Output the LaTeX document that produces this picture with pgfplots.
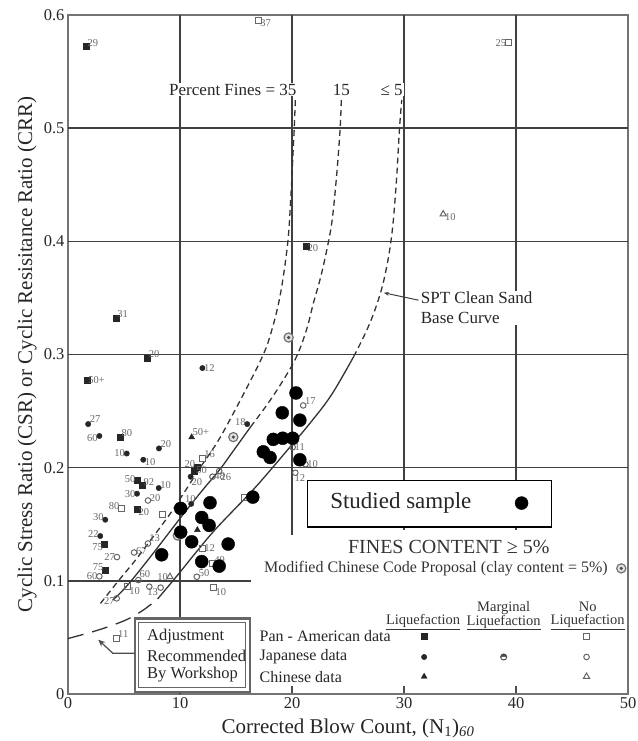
\documentclass[border=0pt]{standalone}
\usepackage{pgfplots}
\pgfplotsset{compat=1.18}
\usepackage{fontspec}
\setmainfont{Liberation Serif}
\usetikzlibrary{arrows.meta}

\newcommand{\fs}[1]{\fontsize{#1}{#1}\selectfont}

\begin{document}
\begin{tikzpicture}
\useasboundingbox (-68pt,-47pt) rectangle (569pt,694pt);
\begin{axis}[
  scale only axis, width=560pt, height=679pt,
  xmin=0, xmax=50, ymin=0, ymax=0.6,
  clip=false,
  axis line style={black!55, line width=1.8pt},
  xtick={0,10,20,30,40,50}, xticklabels={0,10,20,30,40,50},
  ytick={0,0.1,0.2,0.3,0.4,0.5,0.6}, yticklabels={0,0.1,0.2,0.3,0.4,0.5,0.6},
  tick align=inside, tick pos=left,
  major tick length=8pt,
  tick style={black!70, line width=1.2pt},
  ticklabel style={font=\fs{16.5}, text=black!85},
  xlabel={Corrected Blow Count, (N\textsubscript{1})\textsubscript{\textit{60}}},
  ylabel={Cyclic Stress Ratio (CSR) or Cyclic Resisitance Ratio (CRR)},
  label style={font=\fs{21}, text=black!85},
  xlabel style={at={(axis description cs:0.5,-0.051)}, anchor=center},
  ylabel style={at={(axis description cs:-0.073,0.5)}, anchor=center},
]
% grid
\draw[black!75, line width=1.4pt] (axis cs:10,0) -- (axis cs:10,0.6);
\draw[black!75, line width=1.4pt] (axis cs:20,0.1405) -- (axis cs:20,0.6);
\draw[black!75, line width=1.4pt] (axis cs:30,0.145) -- (axis cs:30,0.6);
\draw[black!75, line width=1.4pt] (axis cs:40,0.145) -- (axis cs:40,0.6);
\draw[black!75, line width=1.4pt] (axis cs:0,0.5) -- (axis cs:50,0.5);
\draw[black!75, line width=1.4pt] (axis cs:0,0.4) -- (axis cs:50,0.4);
\draw[black!75, line width=1.4pt] (axis cs:0,0.3) -- (axis cs:50,0.3);
\draw[black!75, line width=1.4pt] (axis cs:0,0.2) -- (axis cs:50,0.2);
\draw[black!75, line width=1.4pt] (axis cs:0,0.1) -- (axis cs:16.3,0.1);

% labels on white
\node[anchor=east, fill=white, inner sep=1pt, font=\fs{17}, text=black!85] at (axis cs:20.5,0.534) {Percent Fines = 35};
\node[fill=white, inner sep=1pt, font=\fs{17}, text=black!85] at (axis cs:24.4,0.534) {15};
\node[fill=white, inner sep=1pt, font=\fs{17}, text=black!85] at (axis cs:28.9,0.534) {≤ 5};
\node[anchor=west, align=left, fill=white, inner sep=1pt, font=\fontsize{17}{20}\selectfont, text=black!85] at (axis cs:31.4,0.341) {SPT Clean Sand\\Base Curve};
\draw[black!75, line width=1pt, -{Stealth[length=5pt]}] (axis cs:31.3,0.348) -- (axis cs:28.2,0.3545);

% studied sample box
\draw[black, line width=1.2pt, fill=white] (axis cs:21.4,0.1475) rectangle (axis cs:43.2,0.189);
\node[anchor=west, font=\fs{23}, text=black!85] at (axis cs:23.1,0.1687) {Studied sample};
\node[font=\fs{20}, text=black!80] at (axis cs:34.0,0.130) {FINES CONTENT ≥ 5\%};
\node[anchor=east, font=\fs{16}, text=black!80] at (axis cs:48.5,0.111) {Modified Chinese Code Proposal (clay content = 5\%)};

% adjustment box
\draw[black!60, line width=2.2pt, fill=white] (axis cs:5.95,0.002) rectangle (axis cs:16.25,0.0667);
\draw[black!60, line width=0.8pt] (axis cs:6.33,0.0055) rectangle (axis cs:15.87,0.0632);
\node[anchor=west, font=\fs{16.5}, text=black!85] at (axis cs:6.75,0.0512) {Adjustment};
\node[anchor=west, font=\fs{16.5}, text=black!85] at (axis cs:6.75,0.0336) {Recommended};
\node[anchor=west, font=\fs{16.5}, text=black!85] at (axis cs:6.75,0.0168) {By Workshop};
\draw[black!70, line width=1.2pt, -{Stealth[length=7pt,width=6pt]}] (axis cs:5.95,0.036) -- (axis cs:4.0,0.036) -- (axis cs:2.7,0.048);

% legend text
\node[font=\fs{14.5}, text=black!80, inner sep=0pt] at (axis cs:31.7,0.0636) {\underline{Liquefaction}};
\node[align=center, font=\fontsize{14.5}{13.5}\selectfont, text=black!80, inner sep=0pt] at (axis cs:38.9,0.0691) {Marginal\\\underline{Liquefaction}};
\node[align=center, font=\fontsize{14.5}{13.5}\selectfont, text=black!80, inner sep=0pt] at (axis cs:46.4,0.0691) {No\\\underline{Liquefaction}};
\node[anchor=west, font=\fs{16}, text=black!85] at (axis cs:16.8,0.0512) {Pan - American data};
\node[anchor=west, font=\fs{16}, text=black!85] at (axis cs:16.8,0.0327) {Japanese data};
\node[anchor=west, font=\fs{16}, text=black!85] at (axis cs:16.8,0.0154) {Chinese data};

% curves
\addplot[black!80, line width=1.3pt, smooth, tension=0.6, dash pattern=on 16pt off 9pt] coordinates {(0,0.049) (2.2,0.055) (3.75,0.06) (5.3,0.066) (6.7,0.074) (8,0.084)};
\addplot[black!80, line width=1.3pt, smooth, tension=0.6] coordinates {(8,0.084) (9.7,0.104) (11.5,0.126) (13.3,0.147) (16.3,0.178) (18,0.197) (19.8,0.218) (21.5,0.238) (23.5,0.264) (25.5,0.298)};
\addplot[black!80, line width=1.3pt, smooth, tension=0.6, dash pattern=on 6pt off 4pt] coordinates {(25.5,0.298) (26.7,0.322) (27.6,0.345) (28.3,0.37) (28.9,0.405) (29.3,0.45) (29.6,0.5) (29.8,0.525)};
\addplot[black!80, line width=1.3pt, smooth, tension=0.6] coordinates {(4.0,0.083) (5.3,0.096) (7.5,0.123) (10.3,0.159) (12,0.18) (13.6,0.199) (14.7,0.214) (16.3,0.236)};
\addplot[black!80, line width=1.3pt, smooth, tension=0.6, dash pattern=on 6pt off 4pt] coordinates {(16.3,0.236) (17.8,0.256) (19.2,0.277) (20.4,0.298) (21.3,0.322) (21.9,0.345) (22.6,0.37) (23.2,0.397) (23.6,0.42) (24.0,0.46) (24.3,0.5) (24.4,0.525)};
\addplot[black!80, line width=1.3pt, smooth, tension=0.6, dash pattern=on 6pt off 4pt] coordinates {(2.9,0.08) (4.5,0.1) (6,0.118) (7.3,0.135) (9.1,0.159) (10.5,0.18) (11.8,0.2) (13.3,0.222) (14.6,0.245) (16.3,0.277) (17.3,0.297) (18,0.315) (18.9,0.35) (19.6,0.397) (19.9,0.44) (20.1,0.48) (20.2,0.5) (20.3,0.525)};

% Pan-American liquefaction
\addplot[only marks, mark=square*, mark size=3pt, black!85,
  nodes near coords, point meta=explicit symbolic,
  visualization depends on={value \thisrow{a}\as\ang},
  every node near coord/.append style={anchor=\ang, font=\fs{10.5}, text=black!60, inner sep=1.5pt}]
  table[meta=lab] {
x y lab a
1.6 0.572 29 205
21.25 0.396 20 160
4.26 0.332 31 210
7.08 0.297 20 210
1.67 0.277 50+ 180
4.64 0.227 80 210
6.16 0.189 50 350
6.6 0.1846 92 205
6.16 0.163 20 160
3.27 0.1325 75 25
3.3 0.1095 75 340
11.5 0.2008 20 340
11.3 0.197 50 185
};
% Pan-American no liquefaction
\addplot[only marks, mark=square, mark size=3pt, black!60, mark options={line width=1pt},
  nodes near coords, point meta=explicit symbolic,
  visualization depends on={value \thisrow{a}\as\ang},
  every node near coord/.append style={anchor=\ang, font=\fs{10.5}, text=black!60, inner sep=1.5pt}]
  table[meta=lab] {
x y lab a
17.0 0.595 37 160
39.3 0.576 25 10
4.76 0.164 80 340
12.0 0.208 16 210
12.0 0.1287 12 180
12.9 0.1154 49 205
13.0 0.094 10 150
5.3 0.0948 10 150
4.3 0.049 11 215
};
\addplot[only marks, mark=square, mark size=3pt, black!60, mark options={line width=1pt}] coordinates {(8.45,0.159) (15.8,0.174)};
% Japanese liquefaction
\addplot[only marks, mark=*, mark size=2.7pt, black!85,
  nodes near coords, point meta=explicit symbolic,
  visualization depends on={value \thisrow{a}\as\ang},
  every node near coord/.append style={anchor=\ang, font=\fs{10.5}, text=black!60, inner sep=1.5pt}]
  table[meta=lab] {
x y lab a
12.0 0.288 12 180
1.8 0.2385 27 215
2.8 0.228 60 20
8.12 0.217 20 210
5.24 0.2125 10 0
6.72 0.207 10 160
16.0 0.2385 18 340
6.16 0.177 30 0
8.1 0.182 10 205
3.33 0.154 30 340
2.88 0.1396 22 345
10.95 0.192 20 140
11.0 0.168 10 280
};
% Japanese no liquefaction
\addplot[only marks, mark=o, mark size=2.8pt, black!60, mark options={line width=1pt},
  nodes near coords, point meta=explicit symbolic,
  visualization depends on={value \thisrow{a}\as\ang},
  every node near coord/.append style={anchor=\ang, font=\fs{10.5}, text=black!60, inner sep=1.5pt}]
  table[meta=lab] {
x y lab a
21.0 0.255 17 210
20.06 0.218 11 180
20.3 0.1955 12 130
21.2 0.203 10 180
7.14 0.171 20 200
7.14 0.133 13 220
4.37 0.121 27 0
5.9 0.125 67 195
2.8 0.104 60 0
4.35 0.0845 27 20
6.28 0.1007 60 220
7.26 0.0948 13 120
11.5 0.1036 50 210
12.9 0.192 48 185
13.5 0.197 26 140
};
\addplot[only marks, mark=o, mark size=2.8pt, black!60, mark options={line width=1pt}] coordinates {(8.27,0.094)};
% Chinese liquefaction
\addplot[only marks, mark=triangle*, mark size=3.4pt, black!85,
  nodes near coords, point meta=explicit symbolic,
  visualization depends on={value \thisrow{a}\as\ang},
  every node near coord/.append style={anchor=\ang, font=\fs{10.5}, text=black!60, inner sep=1.5pt}]
  table[meta=lab] {
x y lab a
11.04 0.227 50+ 210
11.55 0.145 {} 210
};
% Chinese no liquefaction
\addplot[only marks, mark=triangle, mark size=3.6pt, black!60, mark options={line width=1pt},
  nodes near coords, point meta=explicit symbolic,
  visualization depends on={value \thisrow{a}\as\ang},
  every node near coord/.append style={anchor=\ang, font=\fs{10.5}, text=black!60, inner sep=1.5pt}]
  table[meta=lab] {
x y lab a
33.5 0.424 10 160
9.1 0.1036 10 0
};
% Modified Chinese code proposal (bullseye)
\addplot[only marks, mark=*, mark size=4.6pt, mark options={fill=black!12, draw=black!55, line width=1.2pt}] coordinates {(14.76,0.227) (19.7,0.315) (9.8,0.140)};
\addplot[only marks, mark=*, mark size=1.4pt, black!70] coordinates {(14.76,0.227) (19.7,0.315) (9.8,0.140)};
% Studied sample
\addplot[only marks, mark=*, mark size=6.5pt, black] table {
x y
20.36 0.266
19.13 0.2485
20.7 0.242
18.33 0.225
19.17 0.226
20.06 0.226
17.44 0.214
18.04 0.209
20.7 0.207
16.5 0.174
10.06 0.164
12.68 0.169
11.94 0.156
12.6 0.149
10.06 0.143
11.04 0.1345
14.3 0.1325
8.36 0.123
11.94 0.117
13.5 0.113
};

% legend markers
\addplot[only marks, mark=square*, mark size=3pt, black!85] coordinates {(31.8,0.0512)};
\addplot[only marks, mark=square, mark size=3pt, black!60, mark options={line width=1pt}] coordinates {(46.3,0.0512)};
\addplot[only marks, mark=*, mark size=2.7pt, black!85] coordinates {(31.8,0.0327)};
\addplot[only marks, mark=halfcircle*, mark size=3pt, black!70, mark options={line width=1pt, fill=black!70}] coordinates {(38.9,0.0327)};
\addplot[only marks, mark=o, mark size=2.8pt, black!60, mark options={line width=1pt}] coordinates {(46.3,0.0327)};
\addplot[only marks, mark=triangle*, mark size=3.4pt, black!85] coordinates {(31.8,0.0154)};
\addplot[only marks, mark=triangle, mark size=3.6pt, black!60, mark options={line width=1pt}] coordinates {(46.3,0.0154)};
\addplot[only marks, mark=*, mark size=4.6pt, mark options={fill=black!12, draw=black!55, line width=1.2pt}] coordinates {(49.4,0.111)};
\addplot[only marks, mark=*, mark size=1.4pt, black!70] coordinates {(49.4,0.111)};
\addplot[only marks, mark=*, mark size=6.5pt, black] coordinates {(40.5,0.1687)};
\end{axis}
\end{tikzpicture}
\end{document}
